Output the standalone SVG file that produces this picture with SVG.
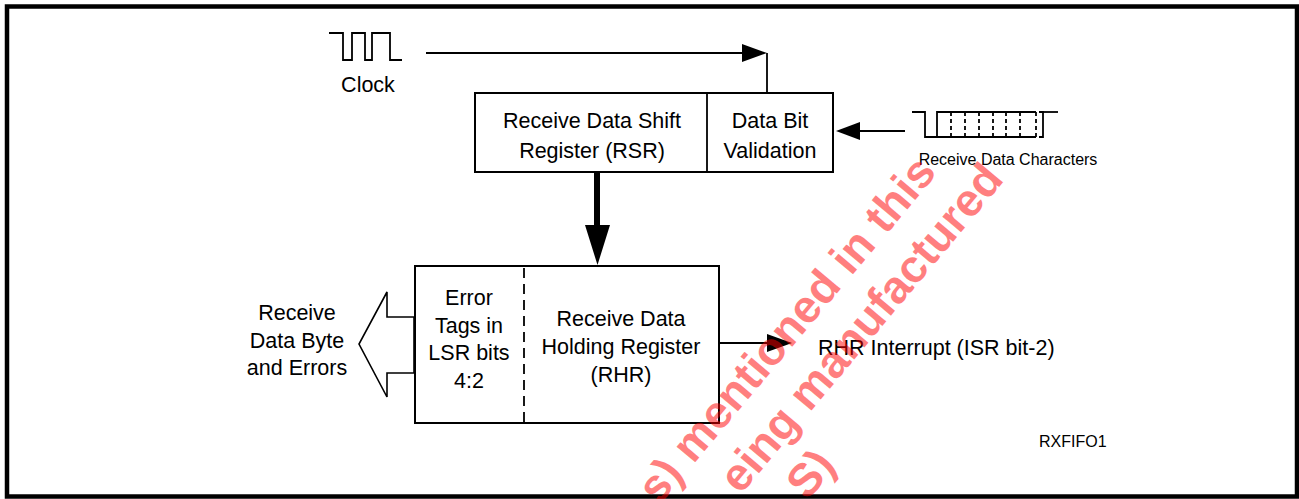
<svg xmlns="http://www.w3.org/2000/svg" width="1299" height="499" viewBox="0 0 1299 499">
<style>
.t{font-family:"Liberation Sans",Arial,sans-serif;font-size:21.5px;fill:#000;text-anchor:middle}
.s{font-family:"Liberation Sans",Arial,sans-serif;font-size:16px;fill:#000}
.box{fill:#fff;stroke:#000;stroke-width:2}
.ln{stroke:#000;stroke-width:1.8;fill:none}
.wm{font-family:"Liberation Sans",Arial,sans-serif;font-size:46px;font-weight:bold;fill:#ff0000;fill-opacity:0.5;text-anchor:end}
</style>
<rect x="0" y="0" width="1299" height="499" fill="#fff"/>
<rect x="7" y="6.5" width="1290" height="490" fill="none" stroke="#000" stroke-width="4.5"/>
<g id="clock">
<polyline class="ln" points="329,33 343,33 343,60 352,60 352,33 365,33 365,60 372,60 372,33 390,33 390,60 402,60"/>
<text class="t" x="368" y="92">Clock</text>
</g>
<g id="rsr">
<rect class="box" x="475" y="93" width="358" height="79"/>
<line class="ln" x1="707" y1="93" x2="707" y2="172" stroke-width="2"/>
<text class="t" x="592" y="128">Receive Data Shift</text>
<text class="t" x="592" y="158">Register (RSR)</text>
<text class="t" x="770" y="128">Data Bit</text>
<text class="t" x="770" y="158">Validation</text>
</g>
<g id="rxdata">
<polyline class="ln" points="912,112 925,112 925,137 1036,137"/>
<polyline class="ln" points="1036,112 937,112 937,137"/>
<g class="ln" stroke-dasharray="4,3">
<line x1="951" y1="112" x2="951" y2="137"/>
<line x1="965" y1="112" x2="965" y2="137"/>
<line x1="979" y1="112" x2="979" y2="137"/>
<line x1="993" y1="112" x2="993" y2="137"/>
<line x1="1006" y1="112" x2="1006" y2="137"/>
<line x1="1020" y1="112" x2="1020" y2="137"/>
<line x1="1036" y1="112" x2="1036" y2="137"/>
</g>
<polyline class="ln" points="1039,112 1043,112 1043,137 1039,137"/>
<line class="ln" x1="1043" y1="112" x2="1058" y2="112"/>
<text class="s" x="1008" y="165" text-anchor="middle">Receive Data Characters</text>
</g>
<g id="rhr">
<rect class="box" x="415" y="266" width="304" height="157"/>
<line class="ln" x1="524" y1="268" x2="524" y2="422" stroke-dasharray="10,6"/>
<text class="t" x="469" y="305">Error</text>
<text class="t" x="469" y="333">Tags in</text>
<text class="t" x="469" y="360">LSR bits</text>
<text class="t" x="469" y="388">4:2</text>
<text class="t" x="621" y="326">Receive Data</text>
<text class="t" x="621" y="354">Holding Register</text>
<text class="t" x="621" y="382">(RHR)</text>
</g>
<g id="output">
<polygon points="414,317 387,317 387,292 359,344 387,397 387,373 414,373" fill="#fff" stroke="#000" stroke-width="1.6"/>
<text class="t" x="297" y="320">Receive</text>
<text class="t" x="297" y="348">Data Byte</text>
<text class="t" x="297" y="375">and Errors</text>
</g>
<g id="interrupt">
<text class="t" x="818" y="355" style="text-anchor:start">RHR Interrupt (ISR bit-2)</text>
</g>
<g id="label">
<text class="s" x="1039" y="447" font-size="16.5">RXFIFO1</text>
</g>
<g id="connectors">
<line class="ln" x1="426" y1="53" x2="745" y2="53"/>
<polygon points="742,44 767,53 742,62" fill="#000"/>
<line class="ln" x1="767" y1="53" x2="767" y2="93"/>
<line class="ln" x1="905" y1="131" x2="858" y2="131"/>
<polygon points="860,122 836,131 860,140" fill="#000"/>
<line x1="597" y1="172" x2="597" y2="227" stroke="#000" stroke-width="6"/>
<polygon points="585,225 610,225 597.5,265" fill="#000"/>
<line class="ln" x1="719" y1="343" x2="770" y2="343"/>
<polygon points="767,334 792,343 767,352" fill="#000"/>
</g>
<g id="watermark">
<text class="wm" transform="translate(938,173) rotate(-50)">s) mentioned in this</text>
<text class="wm" transform="translate(1005,180) rotate(-50)">eing manufactured</text>
<text class="wm" transform="translate(837,466) rotate(-50)">S)</text>
</g>
</svg>
